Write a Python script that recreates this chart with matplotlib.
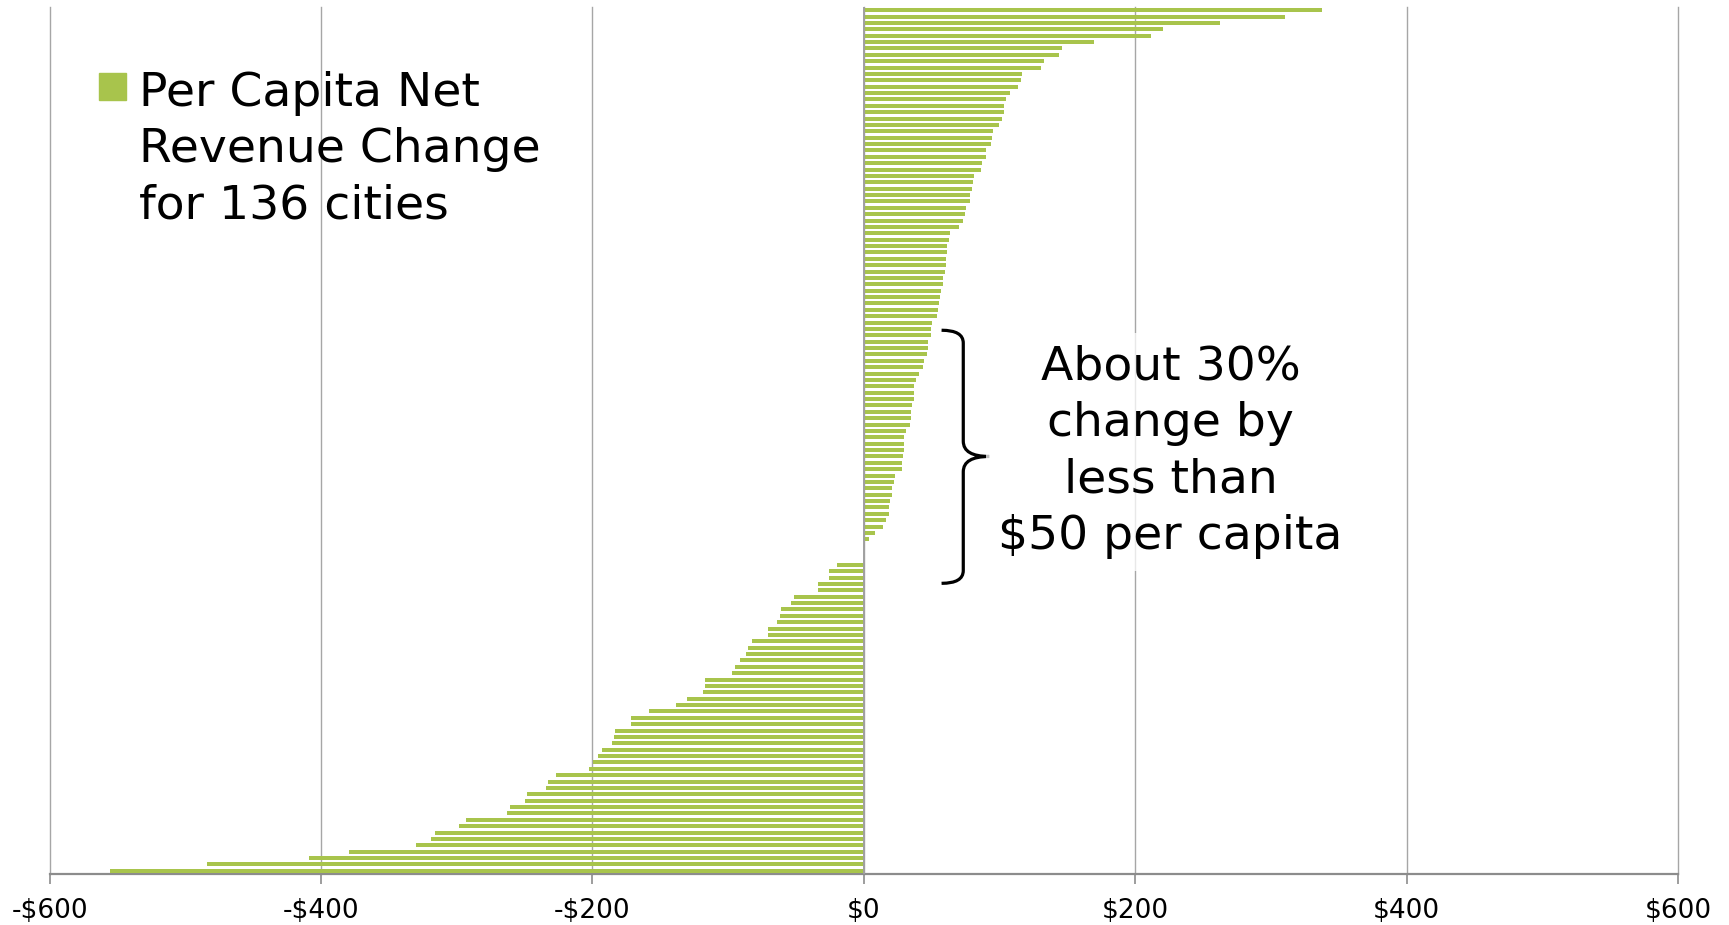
import numpy as np
import matplotlib.pyplot as plt
from matplotlib.patches import Rectangle, PathPatch
from matplotlib.path import Path
from matplotlib.ticker import FuncFormatter


# per capita net revenue change, top bar first
gains = [337.7, 310.4, 262.8, 220.4, 212.0, 170.0, 146.0, 144.0, 133.0, 130.5,
         116.6, 115.6, 113.9, 107.5, 104.5, 103.6, 103.0, 101.6, 99.9, 95.2,
         94.2, 93.7, 90.3, 90.0, 87.1, 86.4, 81.5, 80.5, 80.0, 78.5,
         78.0, 75.3, 74.6, 72.9, 69.9, 63.8, 62.8, 61.6, 61.1, 60.9,
         60.9, 60.1, 58.6, 58.4, 57.2, 56.0, 55.2, 54.5, 54.2, 50.6,
         49.8, 49.3, 47.6, 47.1, 46.4, 44.4, 43.7, 41.0, 38.8, 37.3,
         37.0, 36.8, 35.8, 35.1, 34.6, 33.9, 31.4, 29.9, 29.9, 29.7,
         29.2, 28.5, 28.2, 23.3, 22.1, 20.9, 20.6, 19.6, 18.9, 18.7,
         16.4, 14.2, 7.9, 3.7, 1.2, 0.4, 0.0]
losses = [-19.6, -25.5, -25.8, -33.4, -34.1, -51.3, -53.3, -61.3, -62.1, -64.3,
          -70.9, -70.9, -82.5, -85.2, -87.1, -91.5, -95.0, -97.4, -117.3, -117.3,
          -118.3, -130.0, -138.7, -158.0, -171.3, -171.5, -183.7, -184.0, -185.2, -193.0,
          -196.0, -199.4, -202.4, -227.2, -232.9, -234.0, -248.3, -249.4, -260.7, -262.9,
          -293.0, -298.2, -315.9, -318.9, -329.8, -379.7, -408.6, -484.1, -555.5]

values = np.array(gains + losses)
x_ticks = [-600, -400, -200, 0, 200, 400, 600]

legend_label = 'Per Capita Net\nRevenue Change\nfor 136 cities'
note = 'About 30%\nchange by\nless than\n$50 per capita'

GREEN = '#a8c44c'
GRID = '#a6a6a6'


def money(v, pos):
    v = int(round(v))
    return f'-${-v}' if v < 0 else f'${v}'


def main():
    fig = plt.figure(figsize=(17.29, 9.25), dpi=100)
    ax = fig.add_axes([0.0287, 0.0551, 0.9418, 0.9373])

    rows = np.arange(len(values))
    ax.barh(rows, values, height=0.62, color=GREEN, zorder=3)

    ax.set_xlim(-600, 600)
    ax.set_ylim(len(values) - 0.5, -0.5)
    ax.set_xticks(x_ticks)
    ax.xaxis.set_major_formatter(FuncFormatter(money))
    ax.set_yticks([])
    ax.grid(axis='x', color=GRID, linewidth=1.0, zorder=0)
    for gl in ax.get_xgridlines():
        gl.set_clip_on(False)
    ax.axvline(0, color='#a0a0a0', linewidth=1.4, zorder=4)

    for s in ['top', 'right', 'left']:
        ax.spines[s].set_visible(False)
    ax.spines['bottom'].set_color('#8c8c8c')
    ax.spines['bottom'].set_linewidth(1.6)
    ax.tick_params(axis='x', direction='out', length=7, width=1.2, color='#8c8c8c',
                   labelsize=19, pad=10)

    # legend drawn by hand so the swatch sits on the first line
    fig.patches.append(Rectangle((0.0574, 0.8919), 0.0153, 0.0295,
                                 transform=fig.transFigure, color=GREEN))
    fig.text(0.0806, 0.9235, legend_label, fontsize=34, va='top',
             ha='left', linespacing=1.33)

    # curly brace around the small changes
    verts = [(57.3, 50.2), (73.3, 50.2), (73.3, 52.2), (73.3, 67.6),
             (73.3, 70.0), (92.4, 70.0), (73.3, 70.0), (73.3, 72.4),
             (73.3, 87.9), (73.3, 89.9), (57.3, 89.9)]
    codes = [Path.MOVETO, Path.CURVE3, Path.CURVE3, Path.LINETO,
             Path.CURVE3, Path.CURVE3, Path.CURVE3, Path.CURVE3,
             Path.LINETO, Path.CURVE3, Path.CURVE3]
    ax.add_patch(PathPatch(Path(verts, codes), fill=False, lw=2.3,
                           color='black', zorder=5, capstyle='butt',
                           joinstyle='miter'))

    ax.text(226, 69.3, note, fontsize=34, ha='center', va='center',
            multialignment='center', linespacing=1.33, zorder=6,
            bbox=dict(boxstyle='square,pad=0.25', fc='white', ec='none', alpha=0.75))

    fig.savefig('out.png', dpi=100)


if __name__ == '__main__':
    main()
